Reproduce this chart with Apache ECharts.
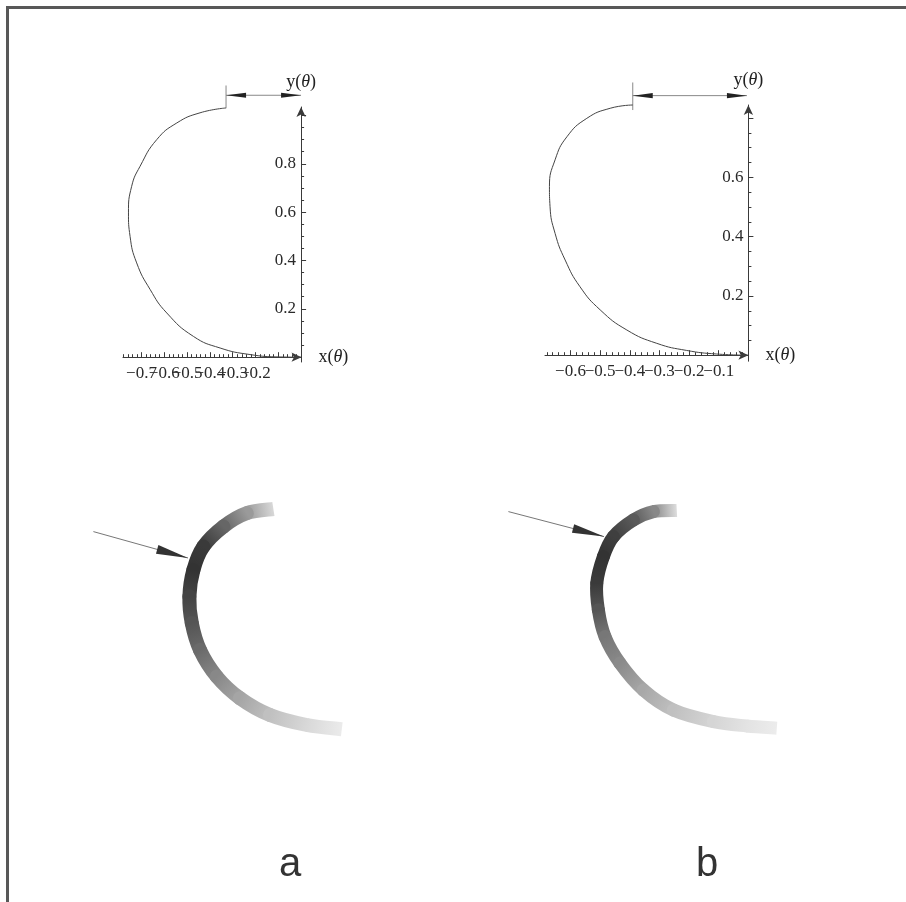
<!DOCTYPE html>
<html>
<head>
<meta charset="utf-8">
<script src="https://cdn.jsdelivr.net/npm/echarts@6.0.0/dist/echarts.min.js"></script>
<style>
  html, body { margin: 0; padding: 0; background: #fff; }
  #chart { width: 906px; height: 902px; }
</style>
</head>
<body>
<div id="chart"></div>
<script>
// upper plot a: x(θ), y(θ)
const curveAx = [-0.329, -0.443, -0.545, -0.633, -0.706, -0.743, -0.757, -0.750, -0.721, -0.662, -0.589, -0.472, -0.355, -0.224, -0.092, 0]
const curveAy = [1.031, 1.011, 0.969, 0.900, 0.790, 0.707, 0.597, 0.500, 0.390, 0.280, 0.183, 0.086, 0.038, 0.011, 0.001, 0]
// upper plot b
const curveBx = [-0.390, -0.466, -0.545, -0.612, -0.652, -0.671, -0.669, -0.652, -0.618, -0.568, -0.500, -0.410, -0.309, -0.208, -0.107, 0]
const curveBy = [0.844, 0.833, 0.799, 0.737, 0.659, 0.569, 0.501, 0.411, 0.321, 0.231, 0.153, 0.085, 0.040, 0.016, 0.004, 0]

// dimension marks: [x1, y1, x2, y2, heads]
const dimA = [[-0.329, 1.03, -0.329, 1.124, 0], [-0.329, 1.0836, 0, 1.0836, 2]]
const dimB = [[-0.390, 0.827, -0.390, 0.92, 0], [-0.390, 0.8756, -0.005, 0.8756, 2]]

// tick values and labels
const xLabelValsA = [-0.7, -0.6, -0.5, -0.4, -0.3, -0.2]
const xLabelsA = ['\u22120.7', '\u22120.6', '\u22120.5', '\u22120.4', '\u22120.3', '\u22120.2']
const xMajorA = [-0.7, -0.6, -0.5, -0.4, -0.3, -0.2, -0.1]
const yLabelValsA = [0.2, 0.4, 0.6, 0.8]
const yLabelsA = ['0.2', '0.4', '0.6', '0.8']
const yMajorA = [0.2, 0.4, 0.6, 0.8, 1.0]

const xLabelValsB = [-0.6, -0.5, -0.4, -0.3, -0.2, -0.1]
const xLabelsB = ['\u22120.6', '\u22120.5', '\u22120.4', '\u22120.3', '\u22120.2', '\u22120.1']
const xMajorB = [-0.6, -0.5, -0.4, -0.3, -0.2, -0.1]
const yLabelValsB = [0.2, 0.4, 0.6]
const yLabelsB = ['0.2', '0.4', '0.6']
const yMajorB = [0.2, 0.4, 0.6, 0.8]

// lower drawings: band centre line (arbitrary units) and grey level along it
const bandAx = [0.967, 0.834, 0.717, 0.617, 0.567, 0.547, 0.559, 0.600, 0.684, 0.800, 0.950, 1.134, 1.309]
const bandAy = [1.155, 1.134, 1.067, 0.967, 0.850, 0.717, 0.584, 0.450, 0.317, 0.209, 0.125, 0.075, 0.054]
const bandAShade = [216, 154, 102, 58, 51, 68, 85, 106, 136, 165, 192, 216, 235]

const bandBx = [0.984, 0.867, 0.767, 0.667, 0.617, 0.584, 0.592, 0.625, 0.700, 0.817, 0.967, 1.167, 1.334, 1.484]
const bandBy = [1.148, 1.142, 1.100, 1.017, 0.917, 0.784, 0.650, 0.517, 0.384, 0.250, 0.150, 0.092, 0.070, 0.059]
const bandBShade = [221, 136, 90, 63, 51, 58, 85, 119, 138, 168, 192, 213, 227, 236]

const pointerA = [[0.067, 1.042, 0.54, 0.91, 1]]
const pointerB = [[0.142, 1.142, 0.62, 1.017, 1]]

const panelLabels = ['a', 'b']

const range = (a, b, step) => {
  const out = []
  const n = Math.round((b - a) / step)
  for (let i = 0; i <= n; i++) out.push(+(a + i * step).toFixed(4))
  return out
}
// the x labels overlap, so they are spread over two stacked axes (every other one)
const everyOther = (arr, start) => arr.filter((_, i) => i % 2 === start)

const serif = "'Liberation Serif', 'Times New Roman', serif"
const axisColor = '#3a3a3a'
const nameRich = {
  n: { fontFamily: serif, fontSize: 18, color: '#222' },
  i: { fontFamily: serif, fontSize: 18, fontStyle: 'italic', color: '#222' }
}

function labelFmt(vals, labels) {
  return v => {
    const k = vals.findIndex(t => Math.abs(t - v) < 1e-6)
    return k < 0 ? '' : labels[k]
  }
}

function tickLabels(dim, shown, vals, labels) {
  return {
    show: shown.length > 0,
    customValues: shown, formatter: labelFmt(vals, labels),
    showMinLabel: true, showMaxLabel: true, hideOverlap: false,
    margin: dim === 'x' ? 8 : 5, fontFamily: serif, fontSize: 17, color: '#2a2a2a'
  }
}

function mainAxis(dim, grid, min, max, ticks, shown, vals, labels, name) {
  return {
    type: 'value', gridIndex: grid, min, max,
    position: dim === 'x' ? 'bottom' : 'left',
    name: '{n|' + name + '(}{i|\u03b8}{n|)}',
    nameLocation: 'end',
    nameGap: dim === 'x' ? 17 : 16,
    nameTextStyle: { rich: nameRich },
    axisLine: { onZero: false, symbol: ['none', 'arrow'], symbolSize: [7, 10], lineStyle: { color: axisColor, width: 1 } },
    axisTick: { show: true, inside: true, length: 5, customValues: ticks, lineStyle: { color: axisColor } },
    axisLabel: tickLabels(dim, shown, vals, labels),
    splitLine: { show: false }
  }
}

function minorAxis(dim, grid, min, max, ticks, shown, vals, labels) {
  return {
    type: 'value', gridIndex: grid, min, max,
    position: dim === 'x' ? 'bottom' : 'left',
    axisLine: { show: false, onZero: false },
    axisTick: { show: true, inside: true, length: 3, customValues: ticks, lineStyle: { color: axisColor } },
    axisLabel: tickLabels(dim, shown, vals, labels),
    splitLine: { show: false }
  }
}

function hiddenAxis(grid, min, max) {
  return { type: 'value', gridIndex: grid, min, max, show: false }
}

function head(tip, from, s) {
  const dx = tip[0] - from[0], dy = tip[1] - from[1]
  const d = Math.hypot(dx, dy) || 1
  const ux = dx / d, uy = dy / d
  const bx = tip[0] - ux * s.len, by = tip[1] - uy * s.len
  return {
    type: 'polygon',
    shape: { points: [[tip[0], tip[1]], [bx - uy * s.half, by + ux * s.half], [bx + uy * s.half, by - ux * s.half]] },
    style: { fill: s.head }
  }
}

function arrowItem(s) {
  return function (params, api) {
    const p1 = api.coord([api.value(0), api.value(1)])
    const p2 = api.coord([api.value(2), api.value(3)])
    const heads = api.value(4)
    const children = [{
      type: 'line',
      shape: { x1: p1[0], y1: p1[1], x2: p2[0], y2: p2[1] },
      style: { stroke: s.line, lineWidth: s.width, fill: 'none' }
    }]
    if (heads >= 1) children.push(head(p2, p1, s))
    if (heads >= 2) children.push(head(p1, p2, s))
    return { type: 'group', children }
  }
}

function bandItem(xs, ys, shades, width) {
  const n = xs.length
  const grey = g => 'rgb(' + g + ',' + g + ',' + g + ')'
  return function (params, api) {
    const i = params.dataIndex
    if (i >= n - 1) return null
    const P = k => {
      const j = Math.max(0, Math.min(n - 1, k))
      return api.coord([xs[j], ys[j]])
    }
    const p0 = P(i - 1), p1 = P(i), p2 = P(i + 1), p3 = P(i + 2)
    const c1 = [p1[0] + (p2[0] - p0[0]) / 6, p1[1] + (p2[1] - p0[1]) / 6]
    const c2 = [p2[0] - (p3[0] - p1[0]) / 6, p2[1] - (p3[1] - p1[1]) / 6]
    return {
      type: 'bezierCurve',
      shape: { x1: p1[0], y1: p1[1], x2: p2[0], y2: p2[1], cpx1: c1[0], cpy1: c1[1], cpx2: c2[0], cpy2: c2[1] },
      style: {
        fill: 'none',
        stroke: {
          type: 'linear', x: p1[0], y: p1[1], x2: p2[0], y2: p2[1], global: true,
          colorStops: [{ offset: 0, color: grey(shades[i]) }, { offset: 1, color: grey(shades[i + 1]) }]
        },
        lineWidth: width,
        lineCap: (i === 0 || i === n - 2) ? 'butt' : 'round'
      }
    }
  }
}

const toPairs = (xs, ys) => xs.map((x, i) => [x, ys[i]])

const chart = echarts.init(document.getElementById('chart'), null, { renderer: 'canvas' })

chart.setOption({
  backgroundColor: '#fff',
  animation: false,
  grid: [
    // plot a: curve + x axis, then a narrow grid carrying the y axis at x = 0
    { left: 123, top: 107, width: 178.5, height: 250.2, outerBoundsMode: 'none' },
    { left: 301.1, top: 107, width: 2, height: 255, outerBoundsMode: 'none' },
    // plot b
    { left: 545, top: 105, width: 203.4, height: 250.2, outerBoundsMode: 'none' },
    { left: 748.4, top: 105, width: 2, height: 256.2, outerBoundsMode: 'none' },
    // lower drawings
    { left: 80, top: 480, width: 300, height: 260, outerBoundsMode: 'none' },
    { left: 480, top: 480, width: 320, height: 260, outerBoundsMode: 'none' }
  ],
  xAxis: [
    mainAxis('x', 0, -0.781, 0.002, xMajorA, everyOther(xLabelValsA, 0), xLabelValsA, xLabelsA, 'x'),
    minorAxis('x', 0, -0.781, 0.002, range(-0.78, 0, 0.02), everyOther(xLabelValsA, 1), xLabelValsA, xLabelsA),
    hiddenAxis(1, 0, 1),
    mainAxis('x', 2, -0.686, 0, xMajorB, everyOther(xLabelValsB, 0), xLabelValsB, xLabelsB, 'x'),
    minorAxis('x', 2, -0.686, 0, range(-0.68, 0, 0.02), everyOther(xLabelValsB, 1), xLabelValsB, xLabelsB),
    hiddenAxis(3, 0, 1),
    hiddenAxis(4, 0, 1.5),
    hiddenAxis(5, 0, 1.6)
  ],
  yAxis: [
    hiddenAxis(0, 0, 1.035),
    mainAxis('y', 1, -0.02, 1.035, yMajorA, yLabelValsA, yLabelValsA, yLabelsA, 'y'),
    minorAxis('y', 1, -0.02, 1.035, range(0.05, 1.0, 0.05), [], yLabelValsA, yLabelsA),
    hiddenAxis(2, 0, 0.844),
    mainAxis('y', 3, -0.02, 0.844, yMajorB, yLabelValsB, yLabelValsB, yLabelsB, 'y'),
    minorAxis('y', 3, -0.02, 0.844, range(0.05, 0.8, 0.05), [], yLabelValsB, yLabelsB),
    hiddenAxis(4, 0, 1.3),
    hiddenAxis(5, 0, 1.3)
  ],
  series: [
    {
      type: 'line', xAxisIndex: 0, yAxisIndex: 0, data: toPairs(curveAx, curveAy),
      smooth: 0.5, smoothConstraint: false, symbol: 'none', clip: false, lineStyle: { color: '#444', width: 1 }
    },
    {
      type: 'line', xAxisIndex: 3, yAxisIndex: 3, data: toPairs(curveBx, curveBy),
      smooth: 0.5, smoothConstraint: false, symbol: 'none', clip: false, lineStyle: { color: '#444', width: 1 }
    },
    {
      type: 'custom', xAxisIndex: 0, yAxisIndex: 0, data: dimA,
      renderItem: arrowItem({ line: '#888', width: 1, head: '#222', len: 20, half: 2.6 })
    },
    {
      type: 'custom', xAxisIndex: 3, yAxisIndex: 3, data: dimB,
      renderItem: arrowItem({ line: '#888', width: 1, head: '#222', len: 20, half: 2.6 })
    },
    {
      type: 'custom', xAxisIndex: 6, yAxisIndex: 6, data: toPairs(bandAx, bandAy),
      renderItem: bandItem(bandAx, bandAy, bandAShade, 14)
    },
    {
      type: 'custom', xAxisIndex: 7, yAxisIndex: 7, data: toPairs(bandBx, bandBy),
      renderItem: bandItem(bandBx, bandBy, bandBShade, 13)
    },
    {
      type: 'custom', xAxisIndex: 6, yAxisIndex: 6, data: pointerA,
      renderItem: arrowItem({ line: '#777', width: 1, head: '#333', len: 32, half: 4.5 })
    },
    {
      type: 'custom', xAxisIndex: 7, yAxisIndex: 7, data: pointerB,
      renderItem: arrowItem({ line: '#777', width: 1, head: '#333', len: 32, half: 4.5 })
    }
  ],
  graphic: [
    { type: 'rect', shape: { x: 6, y: 6, width: 900, height: 3 }, style: { fill: '#585858' } },
    { type: 'rect', shape: { x: 6, y: 6, width: 3, height: 896 }, style: { fill: '#585858' } },
    { type: 'text', x: 290, y: 885, style: { text: panelLabels[0], font: '40px "Liberation Sans"', fill: '#333', align: 'center', verticalAlign: 'bottom' } },
    { type: 'text', x: 707, y: 885, style: { text: panelLabels[1], font: '40px "Liberation Sans"', fill: '#333', align: 'center', verticalAlign: 'bottom' } }
  ]
})
</script>
</body>
</html>
